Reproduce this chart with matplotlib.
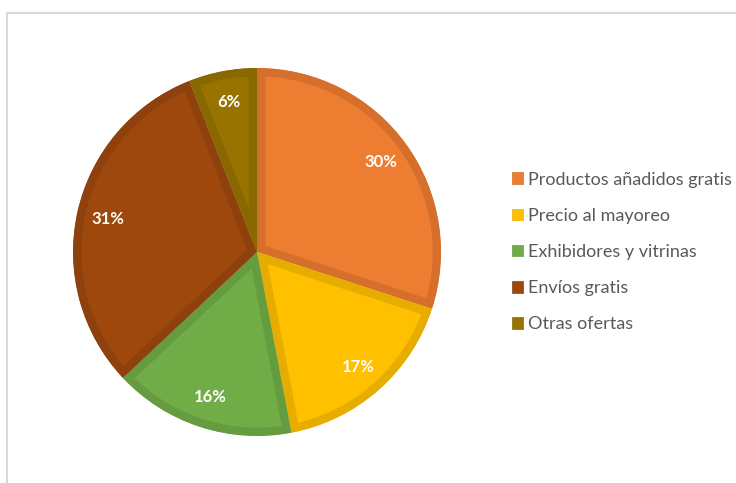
import matplotlib.pyplot as plt
from matplotlib.lines import Line2D

# Data
LABELS = ['Productos añadidos gratis', 'Precio al mayoreo', 'Exhibidores y vitrinas',
          'Envíos gratis', 'Otras ofertas']
VALUES = [30, 17, 16, 31, 6]
FILL = ['#ED7D31', '#FFC000', '#70AD47', '#9E480E', '#997300']
EDGE = ['#D56F2B', '#E6AD00', '#659C40', '#8E410D', '#8A6800']

fig = plt.figure(figsize=(7.36, 4.83), dpi=100)

# chart area frame (top and left edges show)
fig.add_artist(Line2D([7 / 736, 1], [1 - 13 / 483] * 2, color='#D9D9D9', lw=1.5))
fig.add_artist(Line2D([7 / 736] * 2, [0, 1 - 13 / 483], color='#D9D9D9', lw=1.5))

ax = fig.add_axes([0.0992, 0.0973, 0.5, 0.762])
wedges, texts, autotexts = ax.pie(
    VALUES, colors=FILL, startangle=90, counterclock=False, radius=1,
    autopct=lambda p: f'{p:.0f}%', pctdistance=0.83,
    textprops=dict(color='white', fontsize=12, fontweight='bold', family='Lato'),
)
# inner stroke: clip each border to its own wedge
for w, ec in zip(wedges, EDGE):
    w.set_edgecolor(ec)
    w.set_linewidth(12)
    w.set_clip_path(w.get_path(), w.get_transform())
    w.set_clip_on(True)
ax.set_xlim(-1, 1)
ax.set_ylim(-1, 1)
ax.set_aspect('equal')
ax.axis('off')

handles = [plt.Rectangle((0, 0), 1, 1, facecolor=c, edgecolor=e, lw=0.5) for c, e in zip(FILL, EDGE)]
leg = fig.legend(handles, LABELS, loc='center left', bbox_to_anchor=(496 / 736, 1 - 252 / 483),
                 frameon=False, handlelength=0.6, handleheight=0.6,
                 handletextpad=0.3, labelspacing=1.12, prop=dict(family='Lato', size=13))
for t in leg.get_texts():
    t.set_color('#595959')

fig.savefig('out.png', dpi=100)
